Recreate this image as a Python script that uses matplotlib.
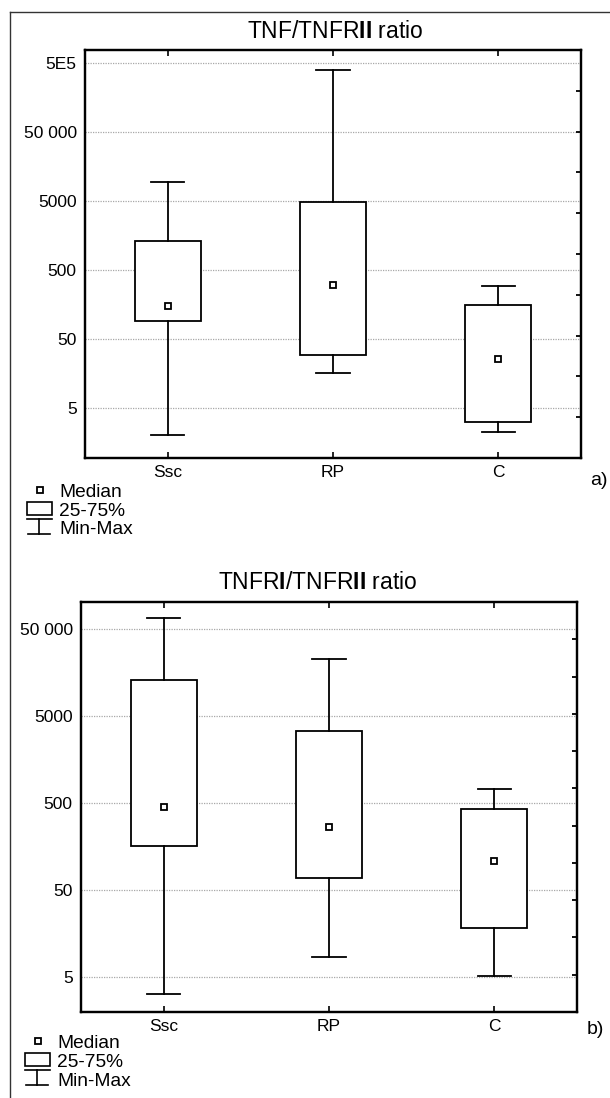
import matplotlib
matplotlib.use('Agg')
import matplotlib.pyplot as plt
from matplotlib.patches import Rectangle
from matplotlib.ticker import NullLocator

plt.rcParams['font.family'] = ['Liberation Sans', 'DejaVu Sans']
plt.rcParams['mathtext.fontset'] = 'custom'
plt.rcParams['mathtext.rm'] = 'Liberation Sans'
plt.rcParams['mathtext.bf'] = 'Liberation Sans:bold'

groups = ['Ssc', 'RP', 'C']

# a) TNF/TNFRII ratio  (values read off log axis)
a_min = [2.05, 16.2, 2.24]
a_q1 = [91, 29.3, 3.13]
a_med = [152, 303, 25.9]
a_q3 = [1343, 4840, 155]
a_max = [9600, 396000, 296]
a_ticks = [5, 50, 500, 5000, 50000, 500000]
a_ticklabels = ['5', '50', '500', '5000', '50 000', '5E5']

# b) TNFRI/TNFRII ratio
b_min = [3.16, 8.4, 5.13]
b_q1 = [160, 69, 18.2]
b_med = [450, 265, 108]
b_q3 = [13150, 3400, 430]
b_max = [68000, 22900, 725]
b_ticks = [5, 50, 500, 5000, 50000]
b_ticklabels = ['5', '50', '500', '5000', '50 000']

W, H = 610, 1098
fig = plt.figure(figsize=(W / 100, H / 100), dpi=100)


def panel(rect, mins, q1s, meds, q3s, maxs, ticks, labels, ylim, nright):
    ax = fig.add_axes(rect)
    stats = []
    for i in range(len(groups)):
        stats.append({'whislo': mins[i], 'q1': q1s[i], 'med': meds[i],
                      'q3': q3s[i], 'whishi': maxs[i], 'mean': meds[i],
                      'fliers': []})
    lw = 1.3
    ax.bxp(stats, positions=range(len(groups)), widths=0.4, capwidths=0.2,
           showmeans=True, meanline=False, patch_artist=True, manage_ticks=False,
           boxprops=dict(facecolor='white', edgecolor='black', linewidth=lw),
           whiskerprops=dict(color='black', linewidth=lw),
           capprops=dict(color='black', linewidth=lw),
           medianprops=dict(linewidth=0),
           meanprops=dict(marker='s', markersize=4.5, markerfacecolor='white',
                          markeredgecolor='black', markeredgewidth=1.3,
                          linestyle='none'))
    ax.set_yscale('log')
    ax.set_ylim(ylim)
    ax.set_xlim(-0.5, len(groups) - 0.5)
    ax.set_yticks(ticks, labels)
    ax.yaxis.set_minor_locator(NullLocator())
    ax.set_xticks(range(len(groups)), groups)
    ax.set_axisbelow(True)
    ax.yaxis.grid(True, color='#a8a8a8', linewidth=0.9, linestyle=(0, (1, 1)))
    ax.tick_params(axis='y', length=0, pad=6, labelsize=12.5)
    ax.tick_params(axis='x', direction='in', top=True, length=4, width=1.2,
                   pad=5, labelsize=12.5)
    for s in ax.spines.values():
        s.set_linewidth(1.6)
    # evenly spaced ticks on the right frame
    ax2 = ax.twinx()
    ax2.set_ylim(0, nright)
    ax2.set_yticks(range(1, nright))
    ax2.tick_params(axis='y', direction='in', length=3.5, width=1.3,
                    labelright=False)
    for s in ax2.spines.values():
        s.set_linewidth(1.6)
    return ax


panel([85 / W, 1 - 458 / H, 496 / W, 408 / H], a_min, a_q1, a_med, a_q3, a_max,
      a_ticks, a_ticklabels, (0.953, 780000), 10)
panel([81 / W, 1 - 1012 / H, 496 / W, 410 / H], b_min, b_q1, b_med, b_q3, b_max,
      b_ticks, b_ticklabels, (1.96, 103000), 11)

# overlay in pixel coordinates for frame, titles, legends
ov = fig.add_axes([0, 0, 1, 1], zorder=5)
ov.set_xlim(0, W)
ov.set_ylim(H, 0)
ov.axis('off')
ov.patch.set_alpha(0)

ov.plot([10, W], [12, 12], color='#333333', lw=1)
ov.plot([10, 10], [12, H], color='#333333', lw=1)

ov.text(335, 38.3, r'TNF/TNFR$\mathbf{II}$ ratio', ha='center', va='baseline', fontsize=16.5)
ov.text(318, 589, r'TNFR$\mathbf{I}$/TNFR$\mathbf{II}$ ratio', ha='center', va='baseline', fontsize=16.5)
ov.text(608, 485, 'a)', ha='right', va='baseline', fontsize=14)
ov.text(604, 1034, 'b)', ha='right', va='baseline', fontsize=14)


def legend(x0, y0):
    ov.plot([x0 - 19], [y0 - 7.5], marker='s', ms=4.5, mfc='white', mec='black', mew=1.3)
    ov.text(x0, y0, 'Median', fontsize=13.8, va='baseline')
    ov.add_patch(Rectangle((x0 - 32, y0 + 5), 25, 13, fill=False, ec='black', lw=1.2))
    ov.text(x0, y0 + 19, '25-75%', fontsize=13.8, va='baseline')
    ov.plot([x0 - 32, x0 - 7], [y0 + 21.5, y0 + 21.5], color='black', lw=1.2)
    ov.plot([x0 - 20, x0 - 20], [y0 + 21.5, y0 + 37], color='black', lw=1.2)
    ov.plot([x0 - 31, x0 - 9], [y0 + 37, y0 + 37], color='black', lw=1.2)
    ov.text(x0, y0 + 37.5, 'Min-Max', fontsize=13.8, va='baseline')


legend(59, 497)
legend(57, 1048)

fig.savefig('out.png', dpi=100)
